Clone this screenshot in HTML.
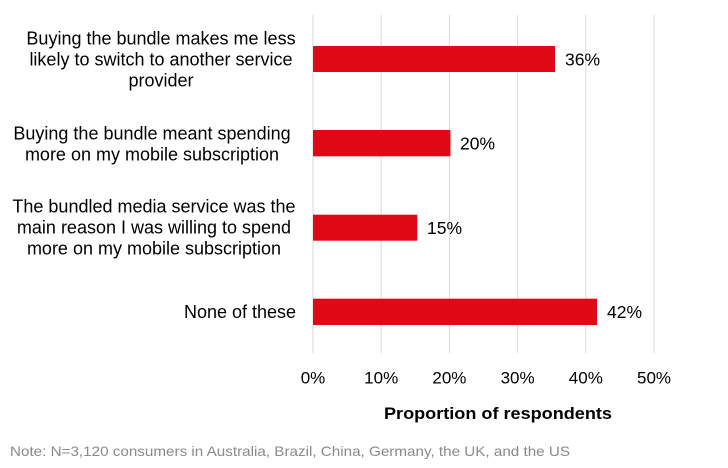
<!DOCTYPE html>
<html><head><style>
html,body{margin:0;padding:0;background:#fff;}
svg{display:block;font-family:"Liberation Sans",Arial,sans-serif;}
</style></head><body>
<svg width="728" height="468" viewBox="0 0 728 468">
<g stroke="#d9d9d9" stroke-width="1">
<line x1="313" y1="15" x2="313" y2="353"/>
<line x1="381.2" y1="15" x2="381.2" y2="353"/>
<line x1="449.4" y1="15" x2="449.4" y2="353"/>
<line x1="517.6" y1="15" x2="517.6" y2="353"/>
<line x1="585.8" y1="15" x2="585.8" y2="353"/>
<line x1="654" y1="15" x2="654" y2="353"/>
</g>
<g fill="#e00916">
<rect x="313" y="46" width="242" height="26"/>
<rect x="313" y="130" width="137.5" height="26.3"/>
<rect x="313" y="214.7" width="104.3" height="26"/>
<rect x="313" y="298.7" width="284" height="26.3"/>
</g>
<g font-size="17.5" fill="#000">
<text x="565" y="65.5">36%</text>
<text x="460" y="149.5">20%</text>
<text x="427" y="234">15%</text>
<text x="607" y="318">42%</text>
</g>
<g font-size="18" fill="#000" text-anchor="middle">
<text x="161" y="44.5">Buying the bundle makes me less</text>
<text x="161" y="65.5">likely to switch to another service</text>
<text x="161" y="86.5">provider</text>
<text x="152" y="139.5">Buying the bundle meant spending</text>
<text x="152" y="160.5">more on my mobile subscription</text>
<text x="154" y="212.5">The bundled media service was the</text>
<text x="154" y="233.5">main reason I was willing to spend</text>
<text x="154" y="254.5">more on my mobile subscription</text>
<text x="240" y="318">None of these</text>
</g>
<g font-size="17" fill="#000" text-anchor="middle">
<text x="313" y="383.5">0%</text>
<text x="381.2" y="383.5">10%</text>
<text x="449.4" y="383.5">20%</text>
<text x="517.6" y="383.5">30%</text>
<text x="585.8" y="383.5">40%</text>
<text x="654" y="383.5">50%</text>
</g>
<text x="498" y="419" font-size="16.5" font-weight="bold" text-anchor="middle" textLength="228" lengthAdjust="spacingAndGlyphs">Proportion of respondents</text>
<text x="10" y="456" font-size="14" fill="#8a8a8a" textLength="560" lengthAdjust="spacingAndGlyphs">Note: N=3,120 consumers in Australia, Brazil, China, Germany, the UK, and the US</text>
</svg>
</body></html>
